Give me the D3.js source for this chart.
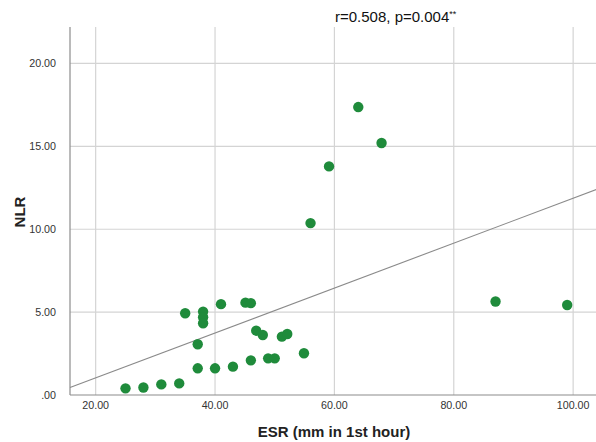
<!DOCTYPE html>
<html>
<head>
<meta charset="utf-8">
<script src="https://cdn.jsdelivr.net/npm/d3@7"></script>
<style>
  body { margin: 0; background: #fff; }
  text { font-family: "Liberation Sans", Arial, sans-serif; }
</style>
</head>
<body>
<script>
// ESR vs NLR
var esr = [25, 28, 31, 34, 35, 37.1, 37.1, 38, 38, 38, 40, 41, 43, 45.1, 46, 46,
           46.9, 48, 48.9, 50, 51.2, 52.1, 54.9, 56, 59.1, 64, 67.9, 87, 99];
var nlr = [0.4, 0.45, 0.64, 0.7, 4.93, 3.06, 1.61, 5.03, 4.69, 4.33, 1.61, 5.48, 1.71, 5.57, 5.54, 2.09,
           3.88, 3.62, 2.21, 2.21, 3.52, 3.68, 2.52, 10.37, 13.79, 17.37, 15.2, 5.64, 5.43];

var xTicks = [20, 40, 60, 80, 100];
var yTicks = [0, 5, 10, 15, 20];

// fit line as drawn on the chart
var fitIntercept = -1.68, fitSlope = 0.1355;
var statLabel = "r=0.508, p=0.004";

var width = 596, height = 442;
var svg = d3.select("body").append("svg")
  .attr("width", width)
  .attr("height", height);

var x = d3.scaleLinear().domain([15.7, 104.5]).range([70, 600]);
var y = d3.scaleLinear().domain([0, 22.2]).range([395, 27]);

// grid
svg.selectAll(".vgrid").data(xTicks).enter().append("line")
  .attr("x1", d => x(d)).attr("x2", d => x(d))
  .attr("y1", y(22.2)).attr("y2", y(0))
  .attr("stroke", "#d4d4d4").attr("stroke-width", 1.2);
svg.selectAll(".hgrid").data(yTicks.filter(d => d > 0)).enter().append("line")
  .attr("x1", x(15.7)).attr("x2", width)
  .attr("y1", d => y(d)).attr("y2", d => y(d))
  .attr("stroke", "#d4d4d4").attr("stroke-width", 1.2);

// axis lines
svg.append("line").attr("x1", 70).attr("x2", 70).attr("y1", y(22.2)).attr("y2", y(0))
  .attr("stroke", "#8c8c8c").attr("stroke-width", 1.2);
svg.append("line").attr("x1", 70).attr("x2", width).attr("y1", y(0)).attr("y2", y(0))
  .attr("stroke", "#8c8c8c").attr("stroke-width", 1.2);

// tick labels
svg.selectAll(".xt").data(xTicks).enter().append("text")
  .attr("x", d => x(d)).attr("y", 409)
  .attr("text-anchor", "middle").attr("font-size", 10.7).attr("fill", "#333")
  .text(d => d.toFixed(2));
svg.selectAll(".yt").data(yTicks).enter().append("text")
  .attr("x", 56).attr("y", d => y(d) + 4)
  .attr("text-anchor", "end").attr("font-size", 10.7).attr("fill", "#333")
  .text(d => d === 0 ? ".00" : d.toFixed(2));

// fit line
var xd = x.domain();
svg.append("line")
  .attr("x1", x(xd[0])).attr("y1", y(fitIntercept + fitSlope * xd[0]))
  .attr("x2", x(xd[1])).attr("y2", y(fitIntercept + fitSlope * xd[1]))
  .attr("stroke", "#8a8a8a").attr("stroke-width", 1.1);

// points
svg.selectAll("circle").data(esr).enter().append("circle")
  .attr("cx", d => x(d))
  .attr("cy", (d, i) => y(nlr[i]))
  .attr("r", 5.2)
  .attr("fill", "#1f8b3b");

// labels
svg.append("text").attr("x", 335).attr("y", 22)
  .attr("font-size", 15).attr("fill", "#111")
  .text(statLabel)
  .append("tspan").attr("font-size", 9).attr("dy", -5).text("**");

svg.append("text").attr("x", 334).attr("y", 437)
  .attr("text-anchor", "middle").attr("font-size", 15).attr("font-weight", "bold").attr("fill", "#222")
  .text("ESR (mm in 1st hour)");

svg.append("text")
  .attr("transform", "translate(25," + 212 + ") rotate(-90)")
  .attr("text-anchor", "middle").attr("font-size", 15).attr("font-weight", "bold").attr("fill", "#222")
  .text("NLR");
</script>
</body>
</html>
